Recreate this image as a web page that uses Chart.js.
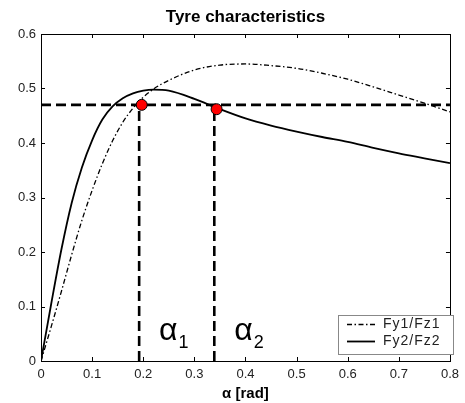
<!DOCTYPE html>
<html>
<head>
<meta charset="utf-8">
<script src="https://cdn.jsdelivr.net/npm/chart.js@4"></script>
<style>
  html, body { margin: 0; padding: 0; background: #fff; }
  #wrap { width: 465px; height: 403px; }
</style>
</head>
<body>
<div id="wrap"><canvas id="tyre-chart"></canvas></div>
<script>
/* values */
const alpha  = [0, 0.02, 0.04, 0.06, 0.08, 0.10, 0.12, 0.14, 0.16, 0.18, 0.20, 0.22, 0.25, 0.30, 0.35, 0.40, 0.45, 0.50, 0.55, 0.60, 0.65, 0.70, 0.75, 0.80];
const fy1Fz1 = [0, 0.063, 0.128, 0.195, 0.258, 0.313, 0.362, 0.404, 0.438, 0.464, 0.484, 0.499, 0.515, 0.534, 0.543, 0.545, 0.542, 0.537, 0.528, 0.517, 0.503, 0.488, 0.473, 0.457];
const fy2Fz2 = [0, 0.105, 0.205, 0.290, 0.355, 0.405, 0.443, 0.467, 0.482, 0.491, 0.496, 0.498, 0.496, 0.481, 0.462, 0.445, 0.432, 0.421, 0.411, 0.402, 0.391, 0.381, 0.372, 0.363];

const refLevel = 0.47;              // horizontal dashed line
const alphaOpt = [0.192, 0.339];    // vertical dashed lines
const markAlpha = [0.197, 0.3435];  // red dots
const markValue = [0.470, 0.462];

const xTicks = [0, 0.1, 0.2, 0.3, 0.4, 0.5, 0.6, 0.7, 0.8];
const yTicks = [0, 0.1, 0.2, 0.3, 0.4, 0.5, 0.6];
const seriesNames = ["Fy1/Fz1", "Fy2/Fz2"];

const FONT = "'Liberation Sans', Arial, sans-serif";
Chart.defaults.font.family = FONT;
Chart.defaults.color = '#222';

const DASHDOT = [5, 2.5, 1.5, 2.5];
const DASHED = [10, 5];

const pts = (xs, ys) => xs.map((x, i) => ({ x: x, y: ys[i] }));

/* box, inside ticks, alpha labels and legend, matlab style */
const matlabFrame = {
  id: 'matlabFrame',
  afterDraw(chart) {
    const ctx = chart.ctx;
    const a = chart.chartArea;
    const xs = chart.scales.x, ys = chart.scales.y;
    ctx.save();
    ctx.strokeStyle = '#000';
    ctx.lineWidth = 1;
    ctx.setLineDash([]);
    ctx.strokeRect(Math.round(a.left) + 0.5, Math.round(a.top) + 0.5,
                   Math.round(a.right - a.left), Math.round(a.bottom - a.top));
    ctx.beginPath();
    xTicks.forEach(v => {
      const px = Math.round(xs.getPixelForValue(v)) + 0.5;
      ctx.moveTo(px, a.bottom); ctx.lineTo(px, a.bottom - 4);
      ctx.moveTo(px, a.top); ctx.lineTo(px, a.top + 4);
    });
    yTicks.forEach(v => {
      const py = Math.round(ys.getPixelForValue(v)) + 0.5;
      ctx.moveTo(a.left, py); ctx.lineTo(a.left + 4, py);
      ctx.moveTo(a.right, py); ctx.lineTo(a.right - 4, py);
    });
    ctx.stroke();

    // alpha_1 / alpha_2 labels
    ctx.fillStyle = '#000';
    ctx.textBaseline = 'alphabetic';
    ctx.textAlign = 'left';
    [['1', 0.231], ['2', 0.378]].forEach(([sub, v]) => {
      const px = xs.getPixelForValue(v);
      const py = ys.getPixelForValue(0.0385);
      ctx.font = '32px ' + FONT;
      ctx.fillText('\u03b1', px, py);
      const w = ctx.measureText('\u03b1').width;
      ctx.font = '18px ' + FONT;
      ctx.fillText(sub, px + w + 1, py + 8);
    });

    // legend
    const lx = 338.5, ly = 315.5, lw = 115, lh = 39;
    ctx.fillStyle = '#fff';
    ctx.fillRect(lx, ly, lw, lh);
    ctx.strokeStyle = '#888';
    ctx.strokeRect(lx, ly, lw, lh);
    const rows = [
      { y: 324.5, dash: DASHDOT, w: 1.3 },
      { y: 341.5, dash: [], w: 1.8 }
    ];
    ctx.font = '14px ' + FONT;
    ctx.letterSpacing = '1px';
    ctx.textBaseline = 'middle';
    rows.forEach((r, i) => {
      ctx.strokeStyle = '#000';
      ctx.lineWidth = r.w;
      ctx.setLineDash(r.dash);
      ctx.beginPath();
      ctx.moveTo(347, r.y); ctx.lineTo(375, r.y);
      ctx.stroke();
      ctx.fillStyle = '#222';
      ctx.fillText(seriesNames[i], 383, r.y);
    });
    ctx.restore();
  }
};

new Chart(document.getElementById("tyre-chart"), {
  type: 'line',
  data: {
    datasets: [
      { // red markers
        data: pts(markAlpha, markValue),
        showLine: false,
        pointRadius: 5.5,
        pointBackgroundColor: '#ff0000',
        pointBorderColor: '#000',
        pointBorderWidth: 1
      },
      {
        data: pts([0, 0.8], [refLevel, refLevel]),
        borderColor: '#000', borderWidth: 2.6, borderDash: DASHED, pointRadius: 0
      },
      {
        data: pts([alphaOpt[0], alphaOpt[0]], [0, refLevel]),
        borderColor: '#000', borderWidth: 2.6, borderDash: DASHED, pointRadius: 0
      },
      {
        data: pts([alphaOpt[1], alphaOpt[1]], [0, refLevel]),
        borderColor: '#000', borderWidth: 2.6, borderDash: DASHED, pointRadius: 0
      },
      {
        label: seriesNames[0],
        data: pts(alpha, fy1Fz1),
        borderColor: '#000', borderWidth: 1.3, borderDash: DASHDOT,
        pointRadius: 0, cubicInterpolationMode: 'monotone'
      },
      {
        label: seriesNames[1],
        data: pts(alpha, fy2Fz2),
        borderColor: '#000', borderWidth: 1.8,
        pointRadius: 0, cubicInterpolationMode: 'monotone'
      }
    ]
  },
  options: {
    responsive: true,
    maintainAspectRatio: false,
    animation: false,
    layout: { padding: { top: 0, right: 9, bottom: 0, left: 0 } },
    plugins: {
      legend: { display: false },
      tooltip: { enabled: false },
      title: {
        display: true,
        fullSize: false,
        text: 'Tyre characteristics',
        color: '#000',
        font: { size: 17, weight: 'bold' },
        padding: { top: 7, bottom: 6.6 }
      }
    },
    scales: {
      x: {
        type: 'linear',
        min: 0, max: 0.8,
        afterBuildTicks: s => { s.ticks = xTicks.map(v => ({ value: v })); },
        afterFit: s => { s.height = 42; },
        grid: { display: false, drawTicks: false },
        border: { display: false },
        ticks: { padding: 6, maxRotation: 0, font: { size: 13 }, callback: v => String(v) },
        title: {
          display: true,
          text: '\u03b1 [rad]',
          color: '#000',
          font: { size: 15, weight: 'bold' },
          padding: { top: 0, bottom: 0 }
        }
      },
      y: {
        min: 0, max: 0.6,
        afterBuildTicks: s => { s.ticks = yTicks.map(v => ({ value: v })); },
        afterFit: s => { s.width = 41; },
        grid: { display: false, drawTicks: false },
        border: { display: false },
        ticks: { padding: 5, font: { size: 13 }, callback: v => String(v) }
      }
    }
  },
  plugins: [matlabFrame]
});
</script>
</body>
</html>
